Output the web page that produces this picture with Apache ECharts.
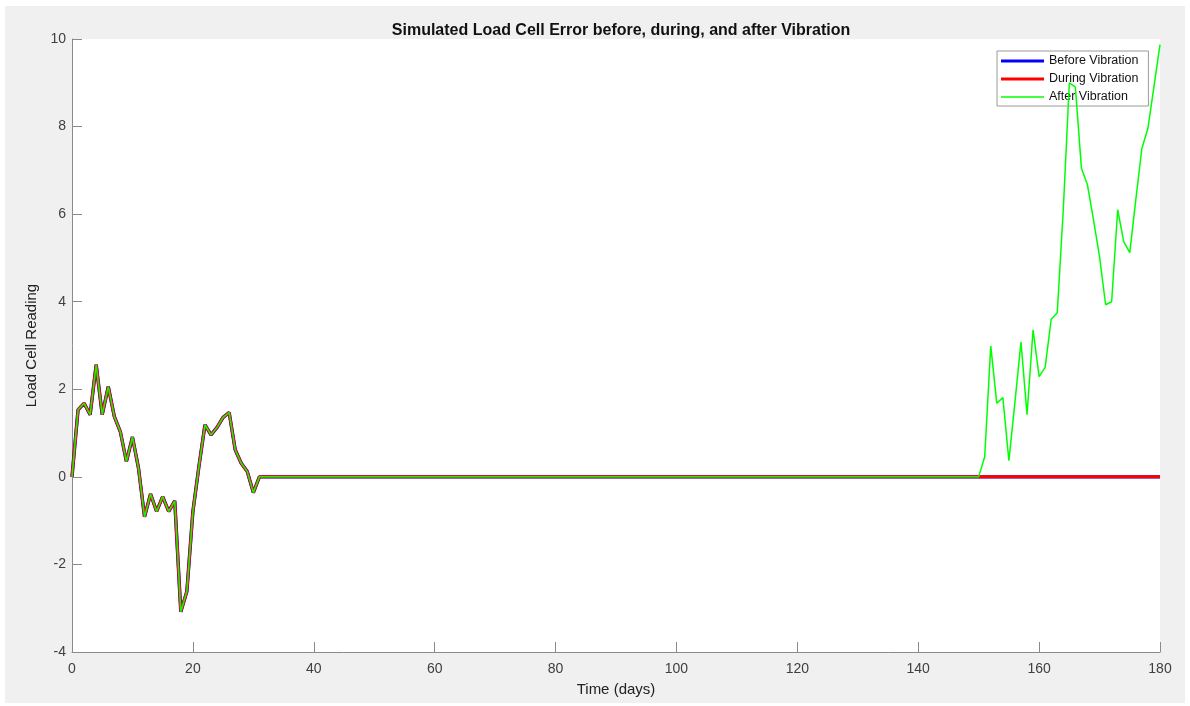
<!DOCTYPE html>
<html>
<head>
<meta charset="utf-8">
<script src="https://cdn.jsdelivr.net/npm/echarts@6/dist/echarts.min.js"></script>
<style>
html,body{margin:0;padding:0;background:#ffffff;width:1190px;height:706px;overflow:hidden;}
#chart{position:absolute;left:5px;top:6px;width:1180px;height:697px;background:#f0f0f0;}
</style>
</head>
<body>
<div id="chart"></div>
<script>
// Days 0..31: load cell reading before vibration
const earlyDays = [0,1,2,3,4,5,6,7,8,9,10,11,12,13,14,15,16,17,18,19,20,21,22,23,24,25,26,27,28,29,30,31];
const earlyValues = [0,1.53,1.68,1.42,2.56,1.42,2.06,1.38,1.03,0.35,0.91,0.2,-0.91,-0.39,-0.79,-0.45,-0.79,-0.55,-3.08,-2.62,-0.79,0.24,1.19,0.96,1.13,1.36,1.47,0.62,0.31,0.12,-0.36,0];
// Days 150..180: after vibration drift
const lateDays = [150,151,152,153,154,155,156,157,158,159,160,161,162,163,164,165,166,167,168,169,170,171,172,173,174,175,176,177,178,179,180];
const lateValues = [0,0.46,2.99,1.68,1.81,0.37,1.7,3.08,1.42,3.36,2.29,2.5,3.6,3.75,6.1,9.0,8.9,7.05,6.67,5.87,5.03,3.93,4.0,6.1,5.37,5.12,6.33,7.5,7.96,8.91,9.87];
const lastDay = 180;
const seriesNames = ['Before Vibration','During Vibration','After Vibration'];

function buildSeries(withLate){
  const out = [];
  for (let d = 0; d <= lastDay; d++) {
    let v = 0;
    const ei = earlyDays.indexOf(d);
    if (ei >= 0) v = earlyValues[ei];
    if (withLate) {
      const li = lateDays.indexOf(d);
      if (li >= 0) v = lateValues[li];
    }
    out.push([d, v]);
  }
  return out;
}
const beforeData = buildSeries(false);
const duringData = buildSeries(false);
const afterData = buildSeries(true);

// legend line icons: a bar centred in a 43x14 box (degenerate corner subpaths fix the bounding box)
const thickIcon = 'path://M0,0 L0.01,0 Z M0,5.5 L43,5.5 L43,8.5 L0,8.5 Z M42.99,14 L43,14 Z';
const thinIcon = 'path://M0,0 L0.01,0 Z M0,6.3 L43,6.3 L43,7.7 L0,7.7 Z M42.99,14 L43,14 Z';

const chart = echarts.init(document.getElementById('chart'), null, {renderer:'canvas'});
const axisColor = '#8a8a8a';
const labelColor = '#404040';
const font = "'Liberation Sans', Arial, Helvetica, sans-serif";
chart.setOption({
  animation:false,
  backgroundColor:'#f0f0f0',
  textStyle:{fontFamily:font},
  title:{
    text:'Simulated Load Cell Error before, during, and after Vibration',
    left:611, top:12, textAlign:'center',
    textStyle:{fontSize:16, fontWeight:'bold', color:'#111', fontFamily:font}
  },
  grid:{left:67, top:33, right:25, bottom:51, show:true, backgroundColor:'#ffffff', borderWidth:0},
  legend:{
    orient:'vertical', left:992, top:45,
    backgroundColor:'#ffffff', borderColor:'#9a9a9a', borderWidth:1, borderRadius:0,
    padding:[3,10,2,4], itemWidth:43, itemHeight:14, itemGap:4,
    itemStyle:{borderWidth:0},
    textStyle:{fontSize:12.5, color:'#111', fontFamily:font},
    data:[
      {name:seriesNames[0], icon:thickIcon, itemStyle:{color:'#0000ff', borderWidth:0}},
      {name:seriesNames[1], icon:thickIcon, itemStyle:{color:'#ff0000', borderWidth:0}},
      {name:seriesNames[2], icon:thinIcon, itemStyle:{color:'#00ff00', borderWidth:0}}
    ]
  },
  xAxis:{
    type:'value', min:0, max:180, interval:20,
    name:'Time (days)', nameLocation:'middle', nameGap:30,
    nameTextStyle:{fontSize:15, color:'#222', fontFamily:font},
    axisLine:{show:true, onZero:false, lineStyle:{color:axisColor, width:1}},
    axisTick:{show:true, inside:true, length:10, lineStyle:{color:axisColor}},
    axisLabel:{fontSize:14, color:labelColor, margin:10, fontFamily:font},
    splitLine:{show:false}
  },
  yAxis:{
    type:'value', min:-4, max:10, interval:2,
    name:'Load Cell Reading', nameLocation:'middle', nameGap:23,
    nameTextStyle:{fontSize:15, color:'#222', fontFamily:font},
    axisLine:{show:true, onZero:false, lineStyle:{color:axisColor, width:1}},
    axisTick:{show:true, inside:true, length:10, lineStyle:{color:axisColor}},
    axisLabel:{fontSize:14, color:labelColor, margin:6, fontFamily:font},
    splitLine:{show:false}
  },
  series:[
    {name:seriesNames[0], type:'line', data:beforeData, symbol:'none',
     lineStyle:{color:'#0000ff', width:3.4}, itemStyle:{color:'#0000ff'}, z:2},
    {name:seriesNames[1], type:'line', data:duringData, symbol:'none',
     lineStyle:{color:'#ff0000', width:3}, itemStyle:{color:'#ff0000'}, z:3},
    {name:seriesNames[2], type:'line', data:afterData, symbol:'none',
     lineStyle:{color:'#00ff00', width:1.5}, itemStyle:{color:'#00ff00'}, z:4}
  ]
});
</script>
</body>
</html>
